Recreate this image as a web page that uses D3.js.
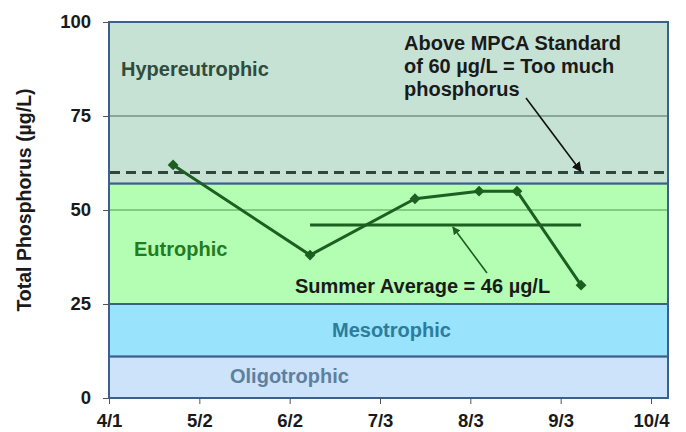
<!DOCTYPE html>
<html>
<head>
<meta charset="utf-8">
<script src="https://cdn.jsdelivr.net/npm/d3@7.9.0/dist/d3.min.js"></script>
<style>
  html, body { margin: 0; padding: 0; background: #fff; }
  svg { display: block; font-family: "Liberation Sans", Arial, sans-serif; font-weight: bold; }
</style>
</head>
<body>
<svg id="chart" width="686" height="432"></svg>
<script>
// sample dates and total phosphorus readings
const sampleDates = ['2010-04-23', '2010-06-09', '2010-07-15', '2010-08-06', '2010-08-19', '2010-09-10'];
const phosphorus = [62, 38, 53, 55, 55, 30];

// summer average line
const averageValue = 46;
const averageSpan = ['2010-06-09', '2010-09-10'];

// MPCA standard
const standardValue = 60;

// trophic state bands (lower, upper)
const bandNames = ['Oligotrophic', 'Mesotrophic', 'Eutrophic', 'Hypereutrophic'];
const bandLow = [0, 11, 25, 57];
const bandHigh = [11, 25, 57, 100];
const bandFill = ['#cce3f9', '#99e3fd', '#b3feb3', '#c6e2d5'];
const bandTextColor = ['#5f7f9f', '#2c7c9b', '#237b22', '#2f4c3d'];

// axes
const xTickDates = ['2010-04-01', '2010-05-02', '2010-06-02', '2010-07-03', '2010-08-03', '2010-09-03', '2010-10-04'];
const xTickLabels = ['4/1', '5/2', '6/2', '7/3', '8/3', '9/3', '10/4'];
const yTicks = [0, 25, 50, 75, 100];
const gridValues = [50, 75];

const parse = d3.utcParse('%Y-%m-%d');
const svg = d3.select('#chart');

const plotLeft = 109, frameRight = 668, plotTop = 22, plotBottom = 398;

const x = d3.scaleUtc()
    .domain([parse(xTickDates[0]), parse(xTickDates[xTickDates.length - 1])])
    .range([plotLeft, 651]);
const y = d3.scaleLinear().domain([0, 100]).range([plotBottom, plotTop]);

const defs = svg.append('defs');
function arrowMarker(id, color, size) {
    defs.append('marker')
        .attr('id', id)
        .attr('viewBox', '0 0 10 10')
        .attr('refX', 9).attr('refY', 5)
        .attr('markerWidth', size).attr('markerHeight', size)
        .attr('markerUnits', 'userSpaceOnUse')
        .attr('orient', 'auto')
        .append('path')
        .attr('d', 'M0,0 L10,5 L0,10 z')
        .attr('fill', color);
}
arrowMarker('arrowGreen', '#1d5e21', 8);
arrowMarker('arrowBlack', '#111', 10);

// bands, drawn top-down so lower borders sit on top
const bands = bandNames.map((name, i) => ({ name, lo: bandLow[i], hi: bandHigh[i], fill: bandFill[i] }));
svg.append('g').selectAll('rect')
    .data(bands.slice().reverse())
    .join('rect')
    .attr('x', plotLeft)
    .attr('y', d => y(d.hi))
    .attr('width', frameRight - plotLeft)
    .attr('height', d => y(d.lo) - y(d.hi))
    .attr('fill', d => d.fill)
    .attr('stroke', '#3c5f8b')
    .attr('stroke-width', 2);

// gridlines
svg.append('g').selectAll('line')
    .data(gridValues)
    .join('line')
    .attr('x1', plotLeft + 1).attr('x2', frameRight - 1)
    .attr('y1', d => y(d)).attr('y2', d => y(d))
    .attr('stroke', d => d === 50 ? '#4f9a4f' : '#4e6a5c')
    .attr('stroke-width', 1);

// MPCA standard dashed line
svg.append('line')
    .attr('x1', plotLeft + 1).attr('x2', frameRight - 1)
    .attr('y1', y(standardValue)).attr('y2', y(standardValue))
    .attr('stroke', '#2e473c')
    .attr('stroke-width', 3)
    .attr('stroke-dasharray', '10,6');

// y axis
const yAxis = d3.axisLeft(y).tickValues(yTicks).tickSize(6).tickPadding(12);
const gy = svg.append('g').attr('transform', `translate(${plotLeft},0)`).call(yAxis);
gy.select('.domain').remove();
gy.selectAll('.tick line').attr('stroke', '#555');
gy.selectAll('.tick text')
    .attr('fill', '#1a1a1a')
    .style('font-size', '18.5px')
    .style('font-family', '"Liberation Sans", Arial, sans-serif')
    .style('font-weight', 'bold');

// x axis
const xAxis = d3.axisBottom(x)
    .tickValues(xTickDates.map(parse))
    .tickFormat((d, i) => xTickLabels[i])
    .tickSize(6).tickPadding(10);
const gx = svg.append('g').attr('transform', `translate(0,${plotBottom})`).call(xAxis);
gx.select('.domain').remove();
gx.selectAll('.tick line').attr('stroke', '#555');
gx.selectAll('.tick text')
    .attr('fill', '#1a1a1a')
    .style('font-size', '18.5px')
    .style('font-family', '"Liberation Sans", Arial, sans-serif')
    .style('font-weight', 'bold');

// y axis title
svg.append('text')
    .attr('transform', `translate(31,${(plotTop + plotBottom) / 2 - 10}) rotate(-90)`)
    .attr('text-anchor', 'middle')
    .attr('fill', '#1a1a1a')
    .style('font-size', '19.5px')
    .text('Total Phosphorus (µg/L)');

// band labels
const bandLabelPos = [[230, 383], [332, 337], [134, 256], [121, 76]];
svg.append('g').selectAll('text')
    .data(bandNames)
    .join('text')
    .attr('x', (d, i) => bandLabelPos[i][0])
    .attr('y', (d, i) => bandLabelPos[i][1])
    .attr('fill', (d, i) => bandTextColor[i])
    .style('font-size', '20px')
    .text(d => d);

// summer average line
svg.append('line')
    .attr('x1', x(parse(averageSpan[0]))).attr('x2', x(parse(averageSpan[1])))
    .attr('y1', y(averageValue)).attr('y2', y(averageValue))
    .attr('stroke', '#1d5e21')
    .attr('stroke-width', 3);

// sample series
const points = sampleDates.map((d, i) => ({ date: parse(d), value: phosphorus[i] }));
svg.append('path')
    .datum(points)
    .attr('fill', 'none')
    .attr('stroke', '#1d5e21')
    .attr('stroke-width', 3)
    .attr('stroke-linejoin', 'round')
    .attr('d', d3.line().x(d => x(d.date)).y(d => y(d.value)));

svg.append('g').selectAll('path')
    .data(points)
    .join('path')
    .attr('transform', d => `translate(${x(d.date)},${y(d.value)})`)
    .attr('d', d3.symbol(d3.symbolDiamond2, 75))
    .attr('fill', '#1d5e21');

// summer average annotation
svg.append('text')
    .attr('x', 295).attr('y', 293)
    .attr('fill', '#1a1a1a')
    .style('font-size', '20px')
    .text('Summer Average = ' + averageValue + ' µg/L');
svg.append('line')
    .attr('x1', 487).attr('y1', 273)
    .attr('x2', x(parse('2010-07-28'))).attr('y2', y(averageValue) + 2)
    .attr('stroke', '#1d5e21')
    .attr('stroke-width', 1.6)
    .attr('marker-end', 'url(#arrowGreen)');

// MPCA annotation
const mpcaLines = ['Above MPCA Standard', 'of ' + standardValue + ' µg/L = Too much', 'phosphorus'];
svg.append('text')
    .attr('fill', '#1a1a1a')
    .style('font-size', '20px')
    .selectAll('tspan')
    .data(mpcaLines)
    .join('tspan')
    .attr('x', 404)
    .attr('y', (d, i) => 50 + i * 23)
    .text(d => d);
svg.append('line')
    .attr('x1', 526).attr('y1', 98)
    .attr('x2', x(parse('2010-09-10'))).attr('y2', y(standardValue) - 1)
    .attr('stroke', '#111')
    .attr('stroke-width', 1.6)
    .attr('marker-end', 'url(#arrowBlack)');
</script>
</body>
</html>
